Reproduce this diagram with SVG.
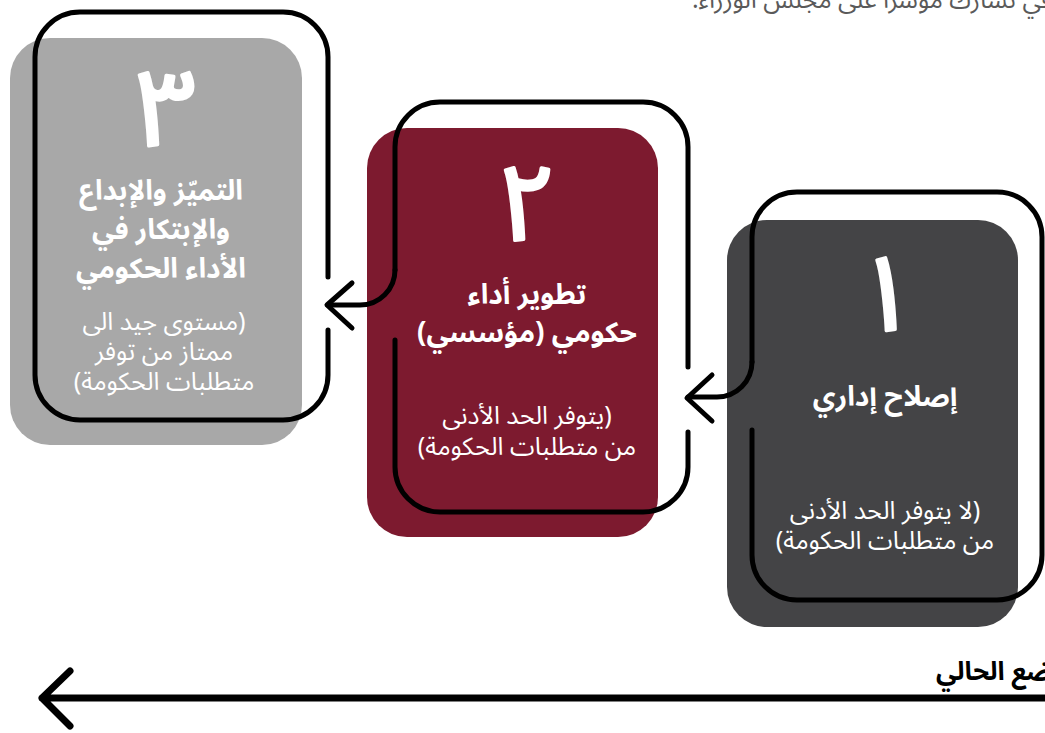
<svg xmlns="http://www.w3.org/2000/svg" width="1045" height="733" viewBox="0 0 1045 733">
<style>
text{font-family:"Noto Sans Arabic","Noto Kufi Arabic","DejaVu Sans",sans-serif;fill:#fff;text-anchor:middle;direction:rtl}
.num{font-size:106px;font-weight:normal;stroke:#fff;stroke-width:3.5;stroke-linejoin:round}
.ttl{font-size:28px;font-weight:bold}
.sub{font-size:25px}
.frame{fill:none;stroke:#000;stroke-width:5;stroke-linecap:round;stroke-linejoin:round}
.top{fill:#5a5a5a;font-size:25px;text-anchor:start}
.lbl{fill:#000;font-size:26px;font-weight:bold;text-anchor:start}
</style>
<rect width="1045" height="733" fill="#fff"/>
<text class="top" x="1052" y="8">في تشارك مؤشراً على مجلس الوزراء.</text>

<g id="node3">
<rect x="10" y="38" width="292" height="407" rx="40" fill="#a8a8a8"/>
<path class="frame" d="M328,277 V57 A45,45 0 0 0 283,12 H80 A45,45 0 0 0 35,57 V375 A45,45 0 0 0 80,420 H283 A45,45 0 0 0 328,375 V330"/>
<text class="num" x="166" y="145">٣</text>
<text class="ttl" x="161" y="200">التميّز والإبداع</text>
<text class="ttl" x="161" y="239">والإبتكار في</text>
<text class="ttl" x="161" y="278">الأداء الحكومي</text>
<text class="sub" x="164" y="330">(مستوى جيد الى</text>
<text class="sub" x="164" y="360">ممتاز من توفر</text>
<text class="sub" x="164" y="390">متطلبات الحكومة)</text>
</g>

<g id="node2">
<rect x="367" y="128" width="291" height="409" rx="40" fill="#7d1a2f"/>
<path class="frame" d="M688,367 V147 A45,45 0 0 0 643,102 H440 A45,45 0 0 0 395,147 V270"/>
<path class="frame" d="M395,340 V467 A45,45 0 0 0 440,512 H643 A45,45 0 0 0 688,467 V432"/>
<text class="num" x="527" y="240">٢</text>
<text class="ttl" x="527" y="304">تطوير أداء</text>
<text class="ttl" x="527" y="342">حكومي (مؤسسي)</text>
<text class="sub" x="527" y="424">(يتوفر الحد الأدنى</text>
<text class="sub" x="527" y="455">من متطلبات الحكومة)</text>
</g>

<g id="node1">
<rect x="727" y="220" width="291" height="407" rx="40" fill="#444446"/>
<path class="frame" d="M752,362 V237 A45,45 0 0 1 797,192 H997 A45,45 0 0 1 1042,237 V555 A45,45 0 0 1 997,600 H797 A45,45 0 0 1 752,555 V430"/>
<text class="num" x="886" y="330">١</text>
<text class="ttl" x="885" y="406">إصلاح إداري</text>
<text class="sub" x="885" y="519">(لا يتوفر الحد الأدنى</text>
<text class="sub" x="885" y="549">من متطلبات الحكومة)</text>
</g>

<g id="connectors">
<path class="frame" d="M395,270 A35,35 0 0 1 360,305 H328"/>
<path class="frame" d="M352,283 L327,305 L352,328"/>
<path class="frame" d="M752,362 A35,35 0 0 1 717,397 H688"/>
<path class="frame" d="M712,375 L687,398 L712,421"/>
<path d="M1045,698 H42 M70,671 L42,698 L70,726" fill="none" stroke="#000" stroke-width="7" stroke-linecap="round" stroke-linejoin="round"/>
<text class="lbl" x="1080" y="680">الوضع الحالي</text>
</g>
</svg>
